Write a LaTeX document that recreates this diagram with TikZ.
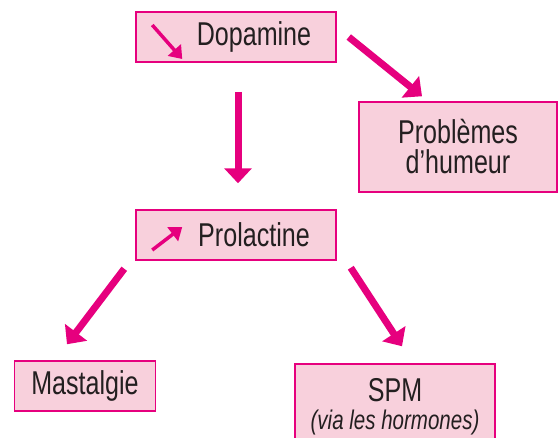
\documentclass[tikz,border=0pt]{standalone}
\usepackage{fontspec}
\setmainfont[FakeStretch=0.76]{Liberation Sans}
\usepackage{tikz}
\usetikzlibrary{positioning, arrows.meta, calc}

\definecolor{rose}{HTML}{E6007E}
\definecolor{rosefill}{HTML}{F8D0DC}
\definecolor{encre}{HTML}{231F20}

\begin{document}
\begin{tikzpicture}[
  x=1pt, y=-1pt,
  every node/.style={font=\fontsize{33}{30}\selectfont, text=encre},
  boite/.style={draw=rose, line width=1.5pt, fill=rosefill, inner sep=0pt, align=center},
  fleche/.style={rose, line width=7pt, -{Triangle[length=15pt, width=27pt]}},
  petite/.style={rose, line width=3.5pt, -{Triangle[length=12pt, width=17pt]}}
]
\useasboundingbox (0,0) rectangle (560,437);

% Boxes
\node[boite, minimum width=200pt, minimum height=50pt] (dop) at (236,37) {\hspace{36pt}Dopamine};
\node[boite, minimum width=198pt, minimum height=90pt] (hum) at (458,147) {Problèmes\\d'humeur};
\node[boite, minimum width=200pt, minimum height=50pt] (prol) at (236,235) {\hspace{36pt}Prolactine};
\node[boite, minimum width=141pt, minimum height=50pt] (mast) at (85,386) {Mastalgie};
\node[boite, minimum width=200pt, minimum height=86pt] (spm) at (395,407)
  {SPM\\[-2pt]{\fontsize{27}{27}\selectfont\itshape (via les hormones)}};

% Small arrows inside the boxes
\draw[petite] ($(dop.west)+(17,-12)$) -- ($(dop.west)+(47,22)$);
\draw[petite] ($(prol.west)+(17,15)$) -- ($(prol.west)+(47,-8)$);

% Connectors
\draw[fleche] ($(dop.east)+(12,0)$) -- ($(hum.north)+(-36,-5)$);
\draw[fleche] ($(dop.south)+(2,29)$) -- ($(prol.north)+(2,-26)$);
\draw[fleche] ($(prol.south west)+(-11,8)$) -- ($(mast.north)+(-18,-16)$);
\draw[fleche] ($(prol.south east)+(14,7)$) -- ($(spm.north)+(7,-17)$);

\end{tikzpicture}
\end{document}
